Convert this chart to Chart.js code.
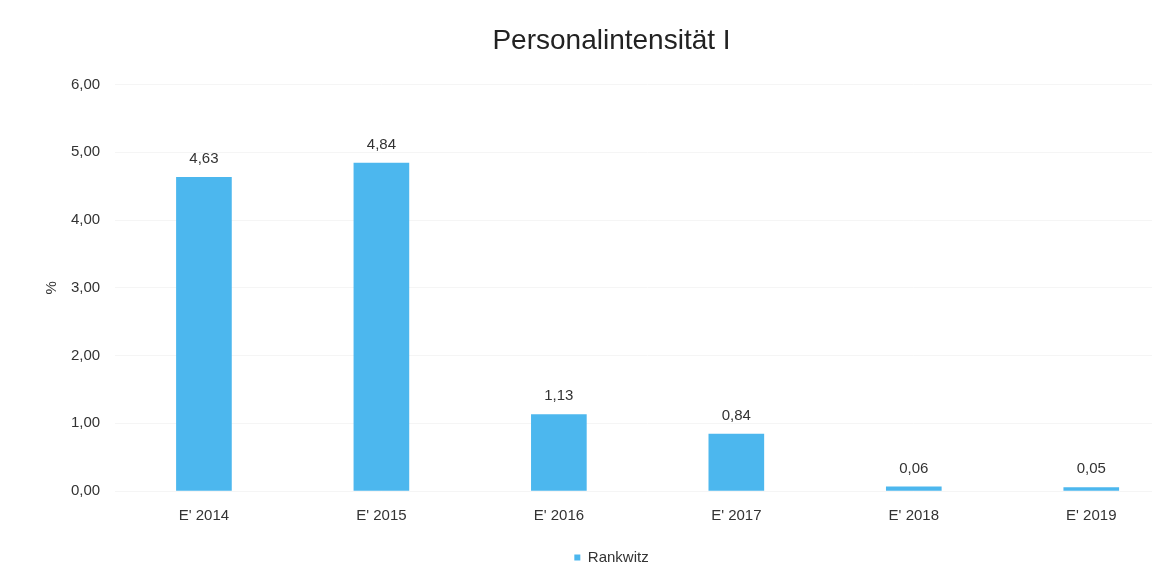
<!DOCTYPE html>
<html>
<head>
<meta charset="utf-8">
<script src="https://cdn.jsdelivr.net/npm/chart.js@4"></script>
<style>
  html, body { margin: 0; padding: 0; background: #fff; overflow: hidden; }
  #wrap { width: 1180px; height: 583px; }
</style>
</head>
<body>
<div id="wrap"><canvas id="chart"></canvas></div>
<script>
var labels = ["E' 2014", "E' 2015", "E' 2016", "E' 2017", "E' 2018", "E' 2019"];
var rankwitz = [4.63, 4.84, 1.13, 0.84, 0.06, 0.05];

function fmt(v) {
    return v.toFixed(2).replace(".", ",");
}

// value labels above the bars
var valueLabels = {
    id: "valueLabels",
    afterDatasetsDraw: function (chart) {
        var ctx = chart.ctx;
        ctx.save();
        ctx.font = "15px 'Liberation Sans', Arial, sans-serif";
        ctx.fillStyle = "#333";
        ctx.textAlign = "center";
        ctx.textBaseline = "bottom";
        chart.getDatasetMeta(0).data.forEach(function (bar, i) {
            ctx.fillText(fmt(rankwitz[i]), bar.x, bar.y - 11);
        });
        ctx.restore();
    }
};

Chart.defaults.font.family = "'Liberation Sans', Arial, sans-serif";
Chart.defaults.color = "#333";

new Chart("chart", {
    type: "bar",
    data: {
        labels: labels,
        datasets: [{
            label: "Rankwitz",
            backgroundColor: "#4CB7EE",
            borderWidth: 0,
            barThickness: 55,
            data: rankwitz,
        }]
    },
    options: {
        responsive: true,
        maintainAspectRatio: false,
        animation: false,
        layout: { padding: { top: 24, right: 0, left: 43, bottom: 8 } },
        plugins: {
            title: {
                display: true,
                text: "Personalintensität I",
                font: { size: 28, weight: "normal" },
                color: "#222",
                padding: { top: 0, bottom: 27 }
            },
            legend: {
                position: "bottom",
                labels: {
                    boxWidth: 6,
                    boxHeight: 6,
                    padding: 17,
                    font: { size: 15 },
                    color: "#333"
                }
            },
            tooltip: { enabled: false }
        },
        scales: {
            x: {
                grid: { display: false },
                border: { display: false },
                ticks: { font: { size: 15 }, padding: 8 }
            },
            y: {
                min: 0,
                max: 6,
                ticks: {
                    stepSize: 1,
                    font: { size: 15 },
                    padding: 15,
                    callback: function (v) { return fmt(v); }
                },
                grid: { color: "#f5f5f5", drawTicks: false },
                border: { display: false },
                title: {
                    display: true,
                    text: "%",
                    font: { size: 15 },
                    padding: { top: 0, bottom: -5 }
                }
            }
        }
    },
    plugins: [valueLabels]
});
</script>
</body>
</html>
